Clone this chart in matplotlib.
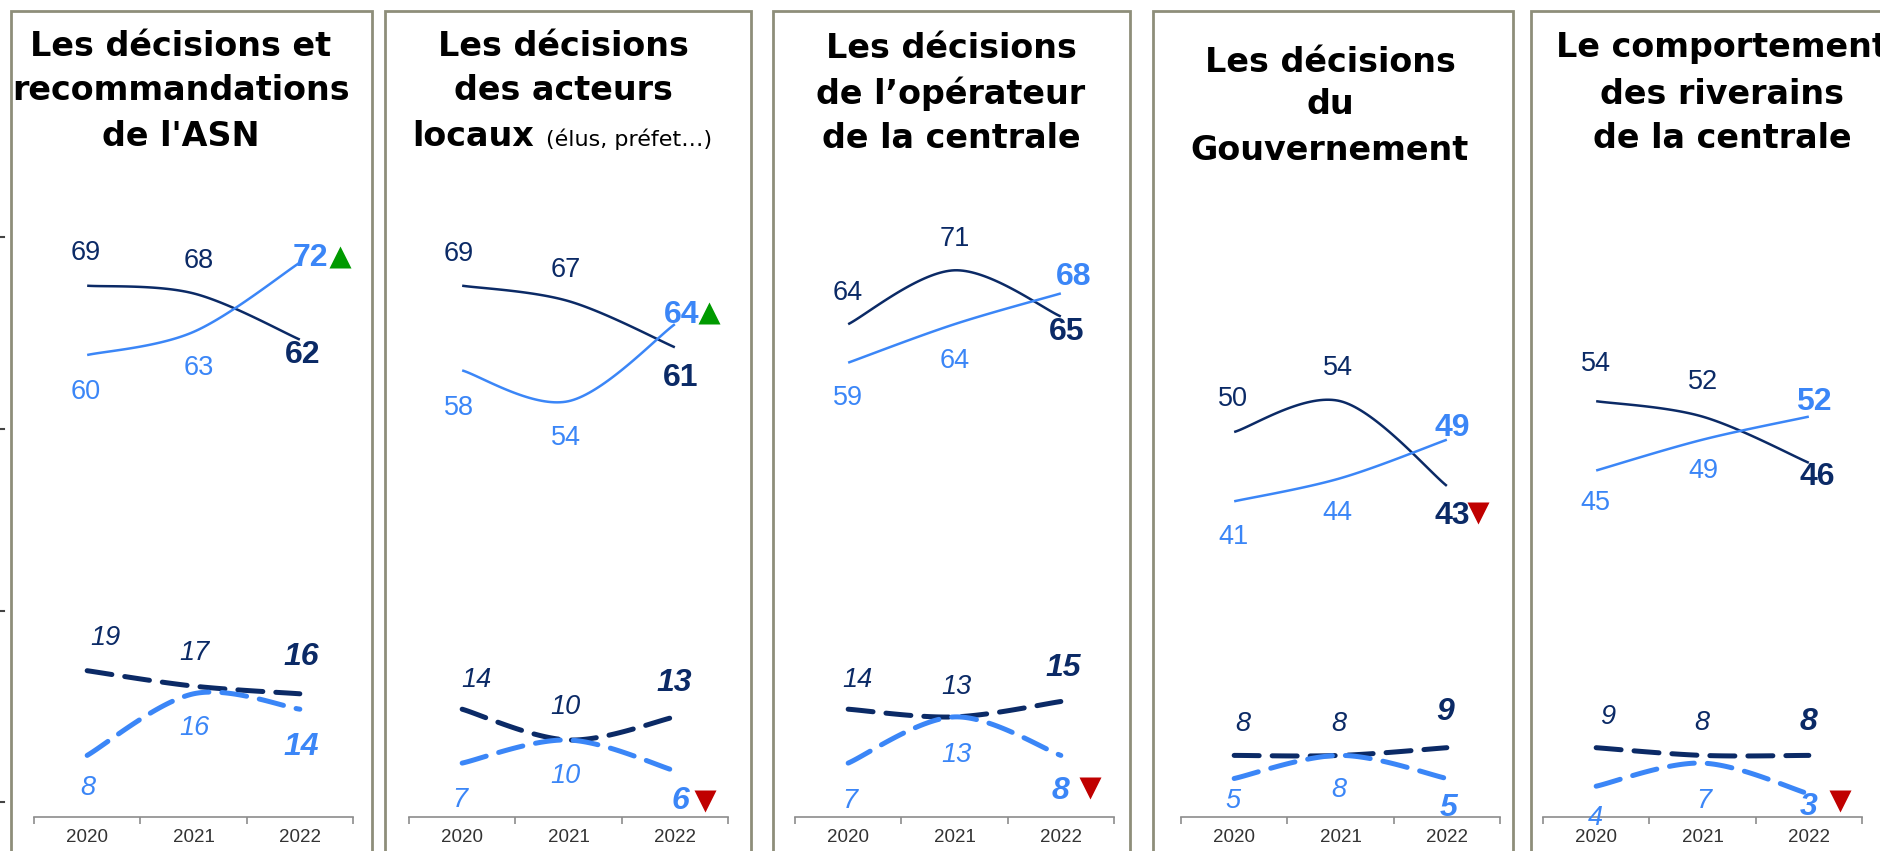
import numpy as np
import matplotlib
matplotlib.use("Agg")
import matplotlib.pyplot as plt
from matplotlib.patches import Rectangle
from matplotlib.lines import Line2D
from matplotlib.transforms import offset_copy

# ---------------- data ----------------
years = ["2020", "2021", "2022"]
titles = [
    ["Les décisions et", "recommandations", "de l'ASN"],
    ["Les décisions", "des acteurs", "locaux"],
    ["Les décisions", "de l’opérateur", "de la centrale"],
    ["Les décisions", "du", "Gouvernement"],
    ["Le comportement", "des riverains", "de la centrale"],
]
title_note = "(élus, préfet…)"

dark_solid = [[69, 68, 62], [69, 67, 61], [64, 71, 65], [50, 54, 43], [54, 52, 46]]
light_solid = [[60, 63, 72], [58, 54, 64], [59, 64, 68], [41, 44, 49], [45, 49, 52]]
dark_dashed = [[19, 17, 16], [14, 10, 13], [14, 13, 15], [8, 8, 9], [9, 8, 8]]
light_dashed = [[8, 16, 14], [7, 10, 6], [7, 13, 8], [5, 8, 5], [4, 7, 3]]
# trend markers: (panel, series, direction)
trend_marks = [(0, "light_solid", "up"), (1, "light_solid", "up"), (1, "light_dashed", "down"),
               (2, "light_dashed", "down"), (3, "dark_solid", "down"), (4, "light_dashed", "down")]

# ---------------- style / layout ----------------
W, H = 1880, 851
DARK = "#0b2a66"
LIGHT = "#3b86f7"
BORDER = "#8e8e7a"
GREEN = "#009a00"
RED = "#c00000"

fig = plt.figure(figsize=(W / 100, H / 100), dpi=100)
fig.patch.set_facecolor("white")

def fx(px):
    return px / W

def fy(py):
    return 1 - py / H

panel_lr = [(11, 372), (385, 751), (773, 1130), (1153, 1513), (1531, 1900)]
axis_left = [34, 409, 795, 1181, 1543]
axis_w = 319
axis_y0 = 817
px_per_unit = 7.7
title_cx = [181, 563, 951, 1330, 1722]
title_y = [[46, 91, 136], [46, 91, 136], [48, 94, 138], [62, 105, 150], [48, 94, 138]]

# label offsets in pixels (dx, dy up)
offs = {
    "dark_solid": [[(-1, 33), (5, 32), (3, -15)], [(-3, 32), (-3, 31), (6, -31)],
                   [(0, 31), (0, 31), (6, -16)], [(-1, 33), (-3, 33), (5, -30)],
                   [(0, 37), (1, 35), (8, -14)]],
    "light_solid": [[(-1, -37), (5, -36), (11, 5)], [(-3, -38), (-3, -37), (7, 9)],
                    [(0, -35), (0, -37), (13, 16)], [(-1, -36), (-3, -35), (5, 12)],
                    [(-1, -32), (1, -31), (5, 15)]],
    "dark_dashed": [[(18, 33), (1, 33), (1, 37)], [(14, 29), (-3, 33), (-1, 34)],
                    [(9, 29), (2, 30), (2, 34)], [(9, 31), (-2, 31), (-2, 36)],
                    [(11, 31), (-1, 32), (0, 33)]],
    "light_dashed": [[(1, -33), (1, -34), (1, -38)], [(-2, -37), (-3, -36), (6, -30)],
                     [(2, -38), (2, -38), (0, -36)], [(-1, -22), (-2, -35), (2, -29)],
                     [(-1, -32), (1, -38), (0, -13)]],
}
mark_offs = {(0, "light_solid"): (40, 6), (1, "light_solid"): (34, 11), (1, "light_dashed"): (30, -30),
             (2, "light_dashed"): (29, -33), (3, "dark_solid"): (31, -27), (4, "light_dashed"): (31, -7)}


def smooth(xs, ys, n=40):
    P = np.column_stack([xs, ys]).astype(float)
    m = len(P)
    out = [P[0]]
    for i in range(m - 1):
        p0 = P[max(i - 1, 0)]
        p1 = P[i]
        p2 = P[i + 1]
        p3 = P[min(i + 2, m - 1)]
        c1 = p1 + (p2 - p0) / 6.0
        c2 = p2 - (p3 - p1) / 6.0
        t = np.linspace(0, 1, n)[1:, None]
        seg = ((1 - t) ** 3) * p1 + 3 * ((1 - t) ** 2) * t * c1 + 3 * (1 - t) * t ** 2 * c2 + t ** 3 * p2
        out.extend(seg)
    out = np.array(out)
    return out[:, 0], out[:, 1]


LAB = "Liberation Sans"
TITLE_FONT = "DejaVu Sans"

series_defs = [
    ("dark_solid", dark_solid, DARK, "-", 1.8, "normal"),
    ("light_solid", light_solid, LIGHT, "-", 1.8, "normal"),
    ("dark_dashed", dark_dashed, DARK, "--", 3.6, "italic"),
    ("light_dashed", light_dashed, LIGHT, "--", 3.6, "italic"),
]
series_map = {d[0]: d[1] for d in series_defs}

for p in range(5):
    l, r = panel_lr[p]
    # panel border
    fig.patches.append(Rectangle((fx(l), fy(H + 20)), fx(r - l), fy(11) - fy(H + 20),
                                 transform=fig.transFigure, fill=False, edgecolor=BORDER,
                                 linewidth=2.0, zorder=0))
    ax = fig.add_axes([fx(axis_left[p]), 1 - axis_y0 / H, fx(axis_w), 100 * px_per_unit / H])
    ax.set_xlim(-0.5, 2.5)
    ax.set_ylim(0, 100)
    ax.patch.set_alpha(0)
    for s in ["left", "right", "top"]:
        ax.spines[s].set_visible(False)
    ax.spines["bottom"].set_color("#8c8c8c")
    ax.spines["bottom"].set_linewidth(1.2)
    ax.set_yticks([])
    x = np.arange(3)
    ax.set_xticks(x)
    ax.set_xticklabels(years, fontsize=13.5, family=LAB, color="#333333")
    ax.tick_params(axis="x", which="major", length=0, pad=9)
    ax.set_xticks([-0.5, 0.5, 1.5, 2.5], minor=True)
    ax.tick_params(axis="x", which="minor", length=5, width=1.2, color="#8c8c8c", direction="out")

    for name, data, col, ls, lw, style in series_defs:
        vals = data[p]
        sx, sy = smooth(x, vals)
        if ls == "-":
            ax.plot(sx, sy, color=col, lw=lw, solid_capstyle="butt", zorder=3)
        else:
            ax.plot(sx, sy, color=col, lw=lw, dashes=(5, 2.6), dash_capstyle="round", zorder=3)
        for i, v in enumerate(vals):
            last = i == 2
            ax.annotate(str(v), (x[i], v), xytext=offs[name][p][i], textcoords="offset pixels",
                        ha="center", va="center", color=col, family=LAB,
                        fontsize=23 if last else 19.5, fontweight="bold" if last else "normal",
                        fontstyle=style, zorder=5, annotation_clip=False)
    for (pp, sname, d) in trend_marks:
        if pp != p:
            continue
        vals = series_map[sname][p]
        dx, dy = mark_offs[(p, sname)]
        mk = "^" if d == "up" else "v"
        tr = offset_copy(ax.transData, fig=fig, x=dx, y=dy, units="dots")
        ax.plot([2], [vals[2]], marker=mk, ms=16, color=GREEN if d == "up" else RED,
                mec="none", transform=tr, clip_on=False, zorder=6)

    # titles
    lines = titles[p]
    for j, t in enumerate(lines):
        if p == 1 and j == 2:
            fig.text(fx(534), fy(title_y[p][j]), t, ha="right", va="center", family=TITLE_FONT,
                     fontweight="bold", fontsize=24)
            fig.text(fx(546), fy(title_y[p][j] + 3), title_note, ha="left", va="center",
                     family=TITLE_FONT, fontsize=16)
        else:
            fig.text(fx(title_cx[p]), fy(title_y[p][j]), t, ha="center", va="center",
                     family=TITLE_FONT, fontweight="bold", fontsize=24)

# stray tick marks on left edge
for yy in [237, 429, 611, 802]:
    fig.add_artist(Line2D([0, fx(4)], [fy(yy), fy(yy)], transform=fig.transFigure,
                          color="#444444", lw=1.5))

fig.savefig("out.png", dpi=100, facecolor="white")
